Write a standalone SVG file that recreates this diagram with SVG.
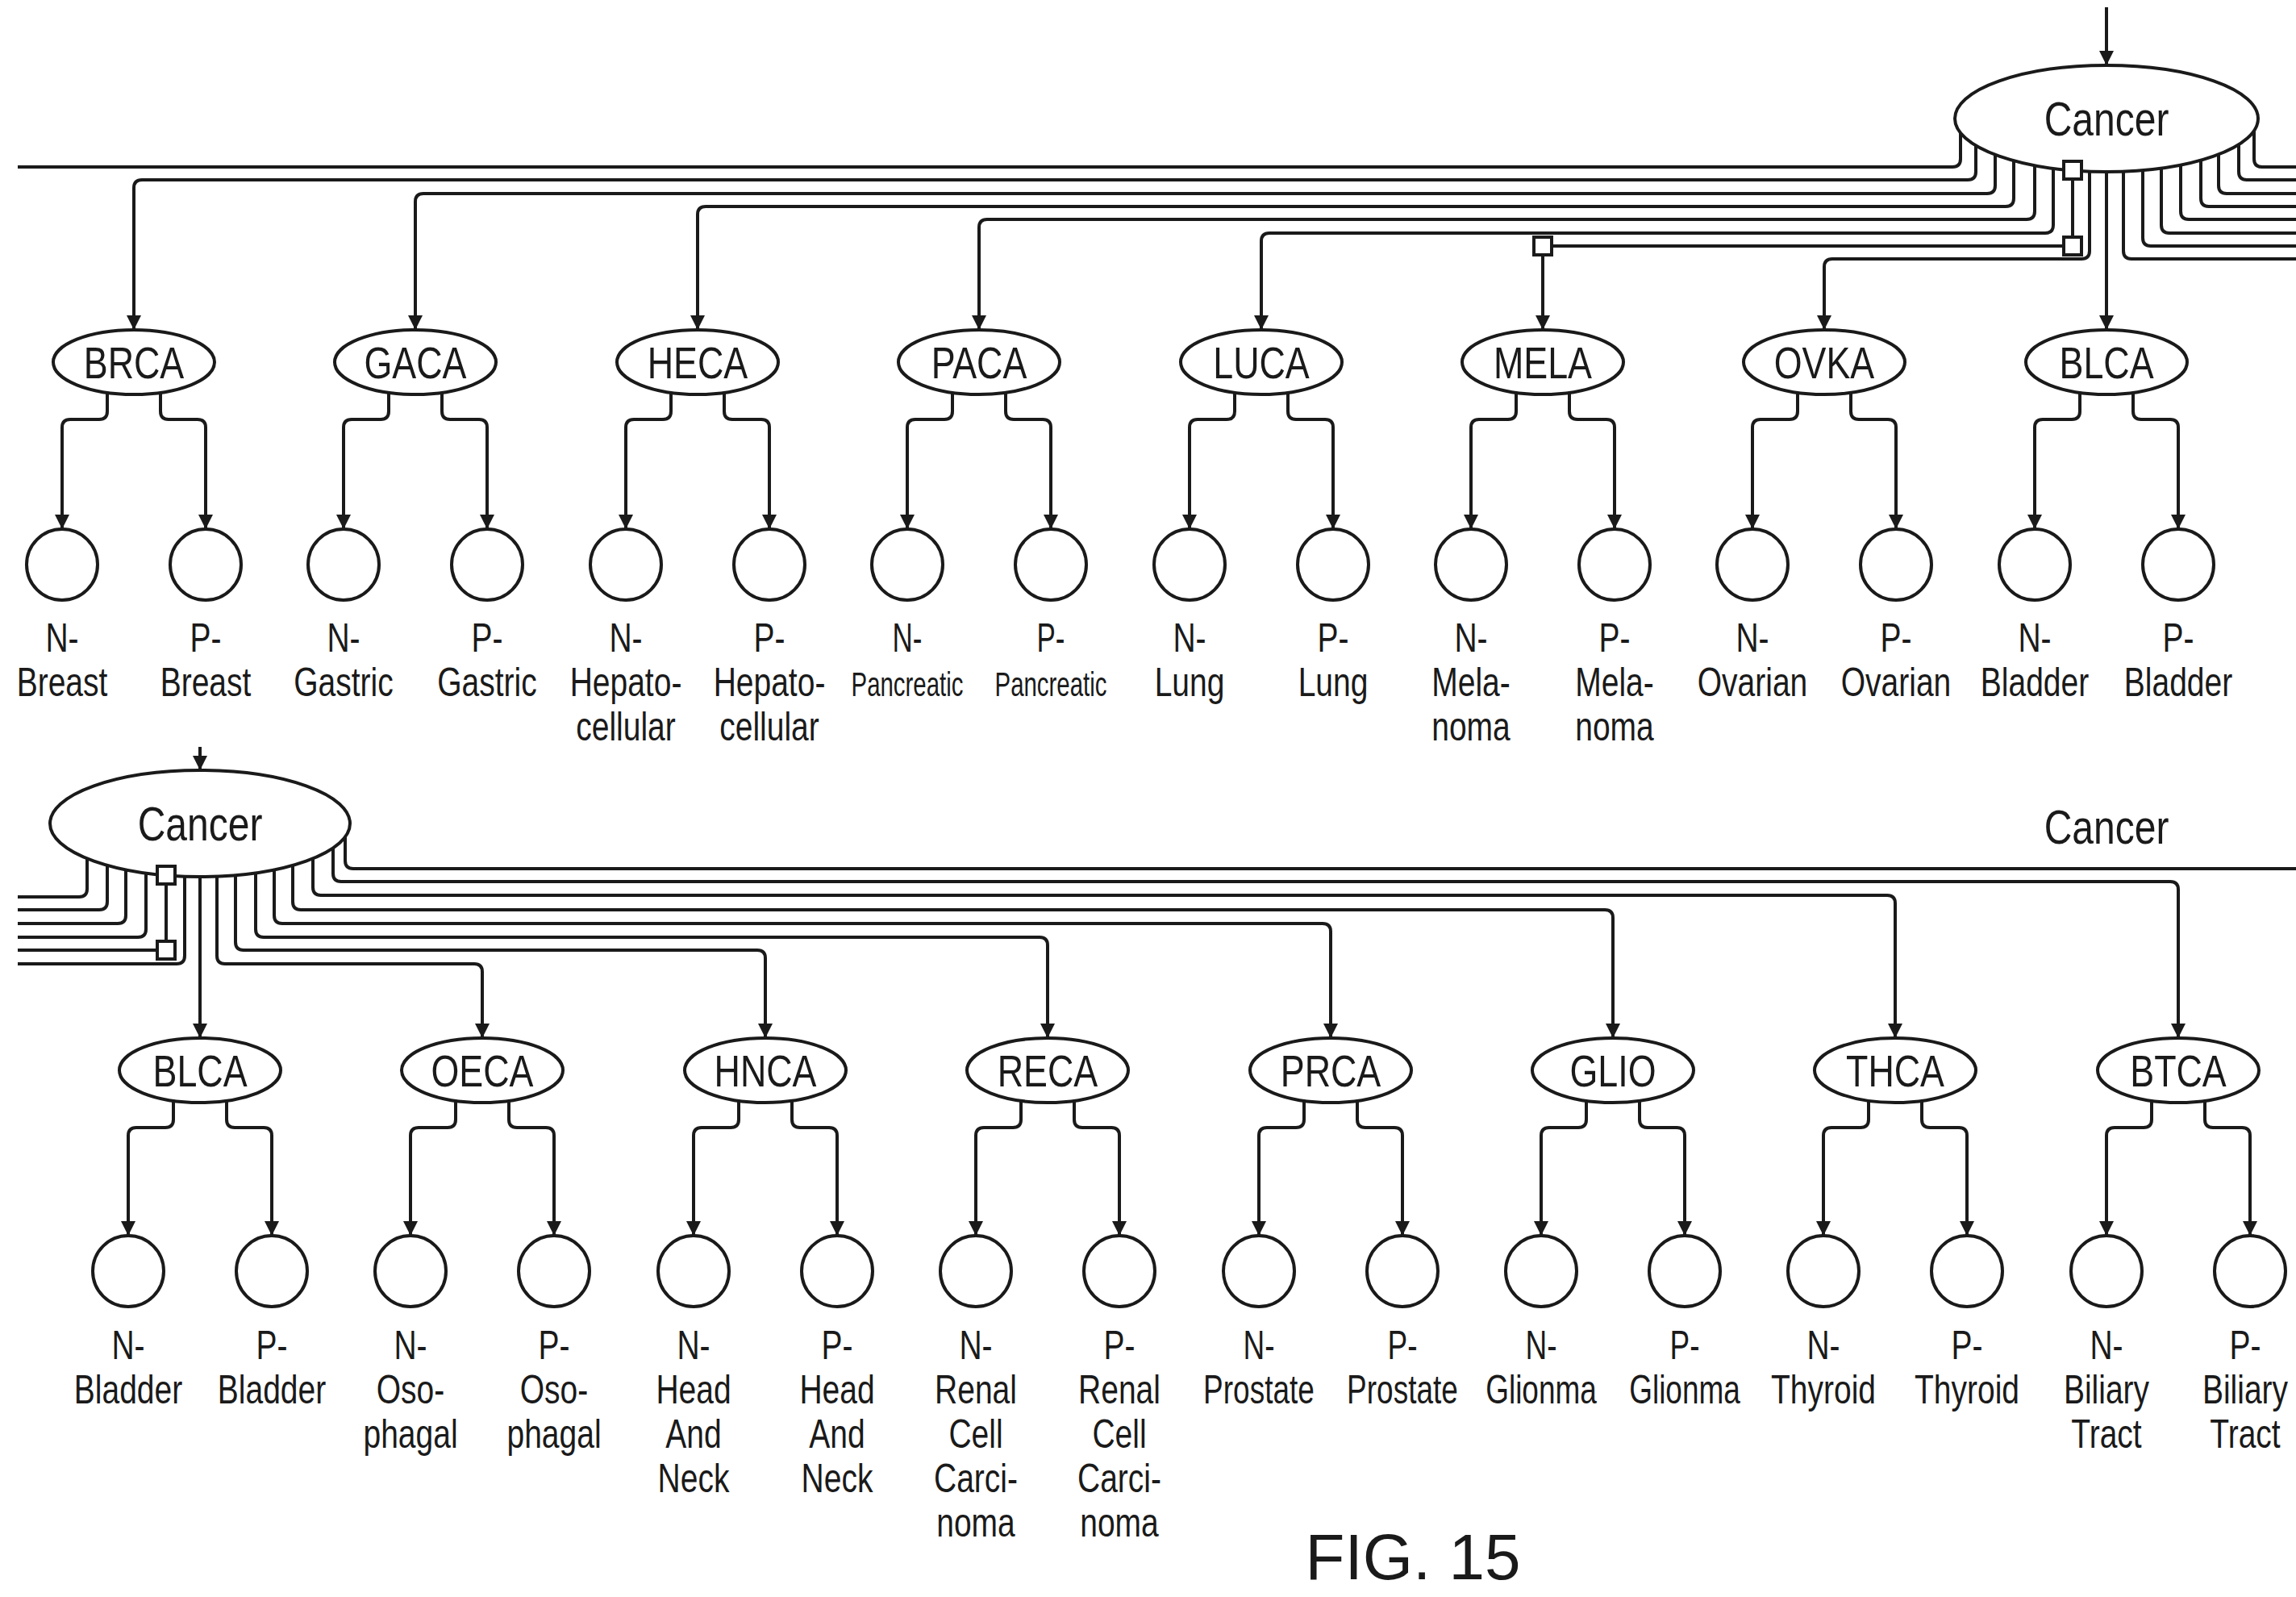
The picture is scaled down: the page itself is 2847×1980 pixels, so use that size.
<svg xmlns="http://www.w3.org/2000/svg" width="2847" height="1980" viewBox="0 0 2847 1980">
<defs>
<marker id="ah" viewBox="0 0 10 10" refX="10" refY="5" markerWidth="5" markerHeight="4.5" orient="auto" markerUnits="strokeWidth"><path d="M0,0 L10,5 L0,10 z" fill="#1a1a1a"/></marker>
</defs>
<style>
.ln{fill:none;stroke:#1a1a1a;stroke-width:4}
.ar{marker-end:url(#ah)}
.nd{fill:#fff;stroke:#1a1a1a;stroke-width:4}
.sq{fill:#fff;stroke:#1a1a1a;stroke-width:4}
.t{font-family:"Liberation Sans",Arial,sans-serif;font-size:50px;fill:#1a1a1a;text-anchor:middle}
.tn{font-size:56px}
.tc{font-size:60px}
.fig{font-family:"Liberation Sans",Arial,sans-serif;font-size:80px;fill:#1a1a1a;text-anchor:middle}
</style>
<rect width="2847" height="1980" fill="#fff"/>
<g id="connectors">
<path class="ln ar" d="M2612,9 V81"/>
<path class="ln" d="M2431,165 V197 Q2431,207 2421,207 H22"/>
<path class="ln ar" d="M2450,180 V213 Q2450,223 2440,223 H176 Q166,223 166,233 V409"/>
<path class="ln ar" d="M2474,192 V230 Q2474,240 2464,240 H525 Q515,240 515,250 V409"/>
<path class="ln ar" d="M2497,199 V246 Q2497,256 2487,256 H875 Q865,256 865,266 V409"/>
<path class="ln ar" d="M2523,205 V262 Q2523,272 2513,272 H1224 Q1214,272 1214,282 V409"/>
<path class="ln ar" d="M2546,209 V279 Q2546,289 2536,289 H1574 Q1564,289 1564,299 V409"/>
<path class="ln" d="M2570,222 V294"/>
<path class="ln" d="M2559,305 H1924"/>
<path class="ln ar" d="M1913,316 V409"/>
<rect class="sq" x="2559" y="294" width="22" height="22"/>
<rect class="sq" x="1902" y="294" width="22" height="22"/>
<path class="ln ar" d="M2591,213 V311 Q2591,321 2581,321 H2272 Q2262,321 2262,331 V409"/>
<path class="ln ar" d="M2612,213 V409"/>
<path class="ln" d="M2633,213 V311 Q2633,321 2643,321 H2847"/>
<path class="ln" d="M2657,211 V295 Q2657,305 2667,305 H2847"/>
<path class="ln" d="M2680,209 V279 Q2680,289 2690,289 H2847"/>
<path class="ln" d="M2704,205 V262 Q2704,272 2714,272 H2847"/>
<path class="ln" d="M2729,199 V246 Q2729,256 2739,256 H2847"/>
<path class="ln" d="M2751,191 V230 Q2751,240 2761,240 H2847"/>
<path class="ln" d="M2776,179 V213 Q2776,223 2786,223 H2847"/>
<path class="ln" d="M2795,162 V197 Q2795,207 2805,207 H2847"/>
<path class="ln ar" d="M133,487 V510 Q133,520 123,520 H87 Q77,520 77,530 V656"/>
<path class="ln ar" d="M199,487 V510 Q199,520 209,520 H245 Q255,520 255,530 V656"/>
<path class="ln ar" d="M482,487 V510 Q482,520 472,520 H436 Q426,520 426,530 V656"/>
<path class="ln ar" d="M548,487 V510 Q548,520 558,520 H594 Q604,520 604,530 V656"/>
<path class="ln ar" d="M832,487 V510 Q832,520 822,520 H786 Q776,520 776,530 V656"/>
<path class="ln ar" d="M898,487 V510 Q898,520 908,520 H944 Q954,520 954,530 V656"/>
<path class="ln ar" d="M1181,487 V510 Q1181,520 1171,520 H1135 Q1125,520 1125,530 V656"/>
<path class="ln ar" d="M1247,487 V510 Q1247,520 1257,520 H1293 Q1303,520 1303,530 V656"/>
<path class="ln ar" d="M1531,487 V510 Q1531,520 1521,520 H1485 Q1475,520 1475,530 V656"/>
<path class="ln ar" d="M1597,487 V510 Q1597,520 1607,520 H1643 Q1653,520 1653,530 V656"/>
<path class="ln ar" d="M1880,487 V510 Q1880,520 1870,520 H1834 Q1824,520 1824,530 V656"/>
<path class="ln ar" d="M1946,487 V510 Q1946,520 1956,520 H1992 Q2002,520 2002,530 V656"/>
<path class="ln ar" d="M2229,487 V510 Q2229,520 2219,520 H2183 Q2173,520 2173,530 V656"/>
<path class="ln ar" d="M2295,487 V510 Q2295,520 2305,520 H2341 Q2351,520 2351,530 V656"/>
<path class="ln ar" d="M2579,487 V510 Q2579,520 2569,520 H2533 Q2523,520 2523,530 V656"/>
<path class="ln ar" d="M2645,487 V510 Q2645,520 2655,520 H2691 Q2701,520 2701,530 V656"/>
<path class="ln ar" d="M248,926 V955"/>
<path class="ln" d="M108,1064 V1102 Q108,1112 98,1112 H22"/>
<path class="ln" d="M133,1073 V1118 Q133,1128 123,1128 H22"/>
<path class="ln" d="M156,1078 V1135 Q156,1145 146,1145 H22"/>
<path class="ln" d="M181,1083 V1152 Q181,1162 171,1162 H22"/>
<path class="ln" d="M206,1096 V1167"/>
<path class="ln" d="M195,1178 H22"/>
<rect class="sq" x="195" y="1167" width="22" height="22"/>
<path class="ln" d="M229,1087 V1185 Q229,1195 219,1195 H22"/>
<path class="ln ar" d="M248,1087 V1287"/>
<path class="ln ar" d="M269,1087 V1185 Q269,1195 279,1195 H588 Q598,1195 598,1205 V1287"/>
<path class="ln ar" d="M292,1085 V1168 Q292,1178 302,1178 H939 Q949,1178 949,1188 V1287"/>
<path class="ln ar" d="M317,1082 V1152 Q317,1162 327,1162 H1289 Q1299,1162 1299,1172 V1287"/>
<path class="ln ar" d="M340,1078 V1135 Q340,1145 350,1145 H1640 Q1650,1145 1650,1155 V1287"/>
<path class="ln ar" d="M363,1073 V1118 Q363,1128 373,1128 H1990 Q2000,1128 2000,1138 V1287"/>
<path class="ln ar" d="M388,1064 V1100 Q388,1110 398,1110 H2340 Q2350,1110 2350,1120 V1287"/>
<path class="ln ar" d="M413,1051 V1083 Q413,1093 423,1093 H2691 Q2701,1093 2701,1103 V1287"/>
<path class="ln" d="M428,1038 V1067 Q428,1077 438,1077 H2847"/>
<path class="ln ar" d="M215,1365 V1388 Q215,1398 205,1398 H169 Q159,1398 159,1408 V1532"/>
<path class="ln ar" d="M281,1365 V1388 Q281,1398 291,1398 H327 Q337,1398 337,1408 V1532"/>
<path class="ln ar" d="M565,1365 V1388 Q565,1398 555,1398 H519 Q509,1398 509,1408 V1532"/>
<path class="ln ar" d="M631,1365 V1388 Q631,1398 641,1398 H677 Q687,1398 687,1408 V1532"/>
<path class="ln ar" d="M916,1365 V1388 Q916,1398 906,1398 H870 Q860,1398 860,1408 V1532"/>
<path class="ln ar" d="M982,1365 V1388 Q982,1398 992,1398 H1028 Q1038,1398 1038,1408 V1532"/>
<path class="ln ar" d="M1266,1365 V1388 Q1266,1398 1256,1398 H1220 Q1210,1398 1210,1408 V1532"/>
<path class="ln ar" d="M1332,1365 V1388 Q1332,1398 1342,1398 H1378 Q1388,1398 1388,1408 V1532"/>
<path class="ln ar" d="M1617,1365 V1388 Q1617,1398 1607,1398 H1571 Q1561,1398 1561,1408 V1532"/>
<path class="ln ar" d="M1683,1365 V1388 Q1683,1398 1693,1398 H1729 Q1739,1398 1739,1408 V1532"/>
<path class="ln ar" d="M1967,1365 V1388 Q1967,1398 1957,1398 H1921 Q1911,1398 1911,1408 V1532"/>
<path class="ln ar" d="M2033,1365 V1388 Q2033,1398 2043,1398 H2079 Q2089,1398 2089,1408 V1532"/>
<path class="ln ar" d="M2317,1365 V1388 Q2317,1398 2307,1398 H2271 Q2261,1398 2261,1408 V1532"/>
<path class="ln ar" d="M2383,1365 V1388 Q2383,1398 2393,1398 H2429 Q2439,1398 2439,1408 V1532"/>
<path class="ln ar" d="M2668,1365 V1388 Q2668,1398 2658,1398 H2622 Q2612,1398 2612,1408 V1532"/>
<path class="ln ar" d="M2734,1365 V1388 Q2734,1398 2744,1398 H2780 Q2790,1398 2790,1408 V1532"/>
</g>
<g id="cancer-top"><ellipse class="nd" cx="2612" cy="147" rx="188" ry="66"/><text class="t tc" transform="translate(2612 0) scale(.8 1)" x="0" y="168">Cancer</text></g>
<rect class="sq" x="2559" y="200" width="22" height="22"/>
<g id="brca"><ellipse class="nd" cx="166" cy="449" rx="100" ry="40"/><text class="t tn" transform="translate(166 0) scale(.8 1)" x="0" y="469">BRCA</text></g>
<g id="gaca"><ellipse class="nd" cx="515" cy="449" rx="100" ry="40"/><text class="t tn" transform="translate(515 0) scale(.8 1)" x="0" y="469">GACA</text></g>
<g id="heca"><ellipse class="nd" cx="865" cy="449" rx="100" ry="40"/><text class="t tn" transform="translate(865 0) scale(.8 1)" x="0" y="469">HECA</text></g>
<g id="paca"><ellipse class="nd" cx="1214" cy="449" rx="100" ry="40"/><text class="t tn" transform="translate(1214 0) scale(.8 1)" x="0" y="469">PACA</text></g>
<g id="luca"><ellipse class="nd" cx="1564" cy="449" rx="100" ry="40"/><text class="t tn" transform="translate(1564 0) scale(.8 1)" x="0" y="469">LUCA</text></g>
<g id="mela"><ellipse class="nd" cx="1913" cy="449" rx="100" ry="40"/><text class="t tn" transform="translate(1913 0) scale(.8 1)" x="0" y="469">MELA</text></g>
<g id="ovka"><ellipse class="nd" cx="2262" cy="449" rx="100" ry="40"/><text class="t tn" transform="translate(2262 0) scale(.8 1)" x="0" y="469">OVKA</text></g>
<g id="blca-top"><ellipse class="nd" cx="2612" cy="449" rx="100" ry="40"/><text class="t tn" transform="translate(2612 0) scale(.8 1)" x="0" y="469">BLCA</text></g>
<g id="n-breast"><circle class="nd" cx="77" cy="700" r="44"/><text class="t" transform="translate(77 0) scale(.78 1)" x="0" y="808">N-<tspan x="0" dy="55">Breast</tspan></text></g>
<g id="p-breast"><circle class="nd" cx="255" cy="700" r="44"/><text class="t" transform="translate(255 0) scale(.78 1)" x="0" y="808">P-<tspan x="0" dy="55">Breast</tspan></text></g>
<g id="n-gastric"><circle class="nd" cx="426" cy="700" r="44"/><text class="t" transform="translate(426 0) scale(.78 1)" x="0" y="808">N-<tspan x="0" dy="55">Gastric</tspan></text></g>
<g id="p-gastric"><circle class="nd" cx="604" cy="700" r="44"/><text class="t" transform="translate(604 0) scale(.78 1)" x="0" y="808">P-<tspan x="0" dy="55">Gastric</tspan></text></g>
<g id="n-hepato"><circle class="nd" cx="776" cy="700" r="44"/><text class="t" transform="translate(776 0) scale(.78 1)" x="0" y="808">N-<tspan x="0" dy="55">Hepato-</tspan><tspan x="0" dy="55">cellular</tspan></text></g>
<g id="p-hepato"><circle class="nd" cx="954" cy="700" r="44"/><text class="t" transform="translate(954 0) scale(.78 1)" x="0" y="808">P-<tspan x="0" dy="55">Hepato-</tspan><tspan x="0" dy="55">cellular</tspan></text></g>
<g id="n-pancreatic"><circle class="nd" cx="1125" cy="700" r="44"/><text class="t" transform="translate(1125 0) scale(.7 1)" x="0" y="808">N-<tspan x="0" dy="55" font-size="42">Pancreatic</tspan></text></g>
<g id="p-pancreatic"><circle class="nd" cx="1303" cy="700" r="44"/><text class="t" transform="translate(1303 0) scale(.7 1)" x="0" y="808">P-<tspan x="0" dy="55" font-size="42">Pancreatic</tspan></text></g>
<g id="n-lung"><circle class="nd" cx="1475" cy="700" r="44"/><text class="t" transform="translate(1475 0) scale(.78 1)" x="0" y="808">N-<tspan x="0" dy="55">Lung</tspan></text></g>
<g id="p-lung"><circle class="nd" cx="1653" cy="700" r="44"/><text class="t" transform="translate(1653 0) scale(.78 1)" x="0" y="808">P-<tspan x="0" dy="55">Lung</tspan></text></g>
<g id="n-melanoma"><circle class="nd" cx="1824" cy="700" r="44"/><text class="t" transform="translate(1824 0) scale(.78 1)" x="0" y="808">N-<tspan x="0" dy="55">Mela-</tspan><tspan x="0" dy="55">noma</tspan></text></g>
<g id="p-melanoma"><circle class="nd" cx="2002" cy="700" r="44"/><text class="t" transform="translate(2002 0) scale(.78 1)" x="0" y="808">P-<tspan x="0" dy="55">Mela-</tspan><tspan x="0" dy="55">noma</tspan></text></g>
<g id="n-ovarian"><circle class="nd" cx="2173" cy="700" r="44"/><text class="t" transform="translate(2173 0) scale(.78 1)" x="0" y="808">N-<tspan x="0" dy="55">Ovarian</tspan></text></g>
<g id="p-ovarian"><circle class="nd" cx="2351" cy="700" r="44"/><text class="t" transform="translate(2351 0) scale(.78 1)" x="0" y="808">P-<tspan x="0" dy="55">Ovarian</tspan></text></g>
<g id="n-bladder-top"><circle class="nd" cx="2523" cy="700" r="44"/><text class="t" transform="translate(2523 0) scale(.78 1)" x="0" y="808">N-<tspan x="0" dy="55">Bladder</tspan></text></g>
<g id="p-bladder-top"><circle class="nd" cx="2701" cy="700" r="44"/><text class="t" transform="translate(2701 0) scale(.78 1)" x="0" y="808">P-<tspan x="0" dy="55">Bladder</tspan></text></g>
<g id="cancer-bottom"><ellipse class="nd" cx="248" cy="1021" rx="186" ry="66"/><text class="t tc" transform="translate(248 0) scale(.8 1)" x="0" y="1042">Cancer</text></g>
<rect class="sq" x="195" y="1074" width="22" height="22"/>
<text class="t tc" transform="translate(2612 0) scale(.8 1)" x="0" y="1046">Cancer</text>
<g id="blca"><ellipse class="nd" cx="248" cy="1327" rx="100" ry="40"/><text class="t tn" transform="translate(248 0) scale(.8 1)" x="0" y="1347">BLCA</text></g>
<g id="oeca"><ellipse class="nd" cx="598" cy="1327" rx="100" ry="40"/><text class="t tn" transform="translate(598 0) scale(.8 1)" x="0" y="1347">OECA</text></g>
<g id="hnca"><ellipse class="nd" cx="949" cy="1327" rx="100" ry="40"/><text class="t tn" transform="translate(949 0) scale(.8 1)" x="0" y="1347">HNCA</text></g>
<g id="reca"><ellipse class="nd" cx="1299" cy="1327" rx="100" ry="40"/><text class="t tn" transform="translate(1299 0) scale(.8 1)" x="0" y="1347">RECA</text></g>
<g id="prca"><ellipse class="nd" cx="1650" cy="1327" rx="100" ry="40"/><text class="t tn" transform="translate(1650 0) scale(.8 1)" x="0" y="1347">PRCA</text></g>
<g id="glio"><ellipse class="nd" cx="2000" cy="1327" rx="100" ry="40"/><text class="t tn" transform="translate(2000 0) scale(.8 1)" x="0" y="1347">GLIO</text></g>
<g id="thca"><ellipse class="nd" cx="2350" cy="1327" rx="100" ry="40"/><text class="t tn" transform="translate(2350 0) scale(.8 1)" x="0" y="1347">THCA</text></g>
<g id="btca"><ellipse class="nd" cx="2701" cy="1327" rx="100" ry="40"/><text class="t tn" transform="translate(2701 0) scale(.8 1)" x="0" y="1347">BTCA</text></g>
<g id="n-bladder"><circle class="nd" cx="159" cy="1576" r="44"/><text class="t" transform="translate(159 0) scale(.78 1)" x="0" y="1685">N-<tspan x="0" dy="55">Bladder</tspan></text></g>
<g id="p-bladder"><circle class="nd" cx="337" cy="1576" r="44"/><text class="t" transform="translate(337 0) scale(.78 1)" x="0" y="1685">P-<tspan x="0" dy="55">Bladder</tspan></text></g>
<g id="n-oso"><circle class="nd" cx="509" cy="1576" r="44"/><text class="t" transform="translate(509 0) scale(.78 1)" x="0" y="1685">N-<tspan x="0" dy="55">Oso-</tspan><tspan x="0" dy="55">phagal</tspan></text></g>
<g id="p-oso"><circle class="nd" cx="687" cy="1576" r="44"/><text class="t" transform="translate(687 0) scale(.78 1)" x="0" y="1685">P-<tspan x="0" dy="55">Oso-</tspan><tspan x="0" dy="55">phagal</tspan></text></g>
<g id="n-head"><circle class="nd" cx="860" cy="1576" r="44"/><text class="t" transform="translate(860 0) scale(.78 1)" x="0" y="1685">N-<tspan x="0" dy="55">Head</tspan><tspan x="0" dy="55">And</tspan><tspan x="0" dy="55">Neck</tspan></text></g>
<g id="p-head"><circle class="nd" cx="1038" cy="1576" r="44"/><text class="t" transform="translate(1038 0) scale(.78 1)" x="0" y="1685">P-<tspan x="0" dy="55">Head</tspan><tspan x="0" dy="55">And</tspan><tspan x="0" dy="55">Neck</tspan></text></g>
<g id="n-renal"><circle class="nd" cx="1210" cy="1576" r="44"/><text class="t" transform="translate(1210 0) scale(.78 1)" x="0" y="1685">N-<tspan x="0" dy="55">Renal</tspan><tspan x="0" dy="55">Cell</tspan><tspan x="0" dy="55">Carci-</tspan><tspan x="0" dy="55">noma</tspan></text></g>
<g id="p-renal"><circle class="nd" cx="1388" cy="1576" r="44"/><text class="t" transform="translate(1388 0) scale(.78 1)" x="0" y="1685">P-<tspan x="0" dy="55">Renal</tspan><tspan x="0" dy="55">Cell</tspan><tspan x="0" dy="55">Carci-</tspan><tspan x="0" dy="55">noma</tspan></text></g>
<g id="n-prostate"><circle class="nd" cx="1561" cy="1576" r="44"/><text class="t" transform="translate(1561 0) scale(.74 1)" x="0" y="1685">N-<tspan x="0" dy="55">Prostate</tspan></text></g>
<g id="p-prostate"><circle class="nd" cx="1739" cy="1576" r="44"/><text class="t" transform="translate(1739 0) scale(.74 1)" x="0" y="1685">P-<tspan x="0" dy="55">Prostate</tspan></text></g>
<g id="n-glionma"><circle class="nd" cx="1911" cy="1576" r="44"/><text class="t" transform="translate(1911 0) scale(.74 1)" x="0" y="1685">N-<tspan x="0" dy="55">Glionma</tspan></text></g>
<g id="p-glionma"><circle class="nd" cx="2089" cy="1576" r="44"/><text class="t" transform="translate(2089 0) scale(.74 1)" x="0" y="1685">P-<tspan x="0" dy="55">Glionma</tspan></text></g>
<g id="n-thyroid"><circle class="nd" cx="2261" cy="1576" r="44"/><text class="t" transform="translate(2261 0) scale(.78 1)" x="0" y="1685">N-<tspan x="0" dy="55">Thyroid</tspan></text></g>
<g id="p-thyroid"><circle class="nd" cx="2439" cy="1576" r="44"/><text class="t" transform="translate(2439 0) scale(.78 1)" x="0" y="1685">P-<tspan x="0" dy="55">Thyroid</tspan></text></g>
<g id="n-biliary"><circle class="nd" cx="2612" cy="1576" r="44"/><text class="t" transform="translate(2612 0) scale(.78 1)" x="0" y="1685">N-<tspan x="0" dy="55">Biliary</tspan><tspan x="0" dy="55">Tract</tspan></text></g>
<g id="p-biliary"><circle class="nd" cx="2790" cy="1576" r="44"/><text class="t" transform="translate(2784 0) scale(.78 1)" x="0" y="1685">P-<tspan x="0" dy="55">Biliary</tspan><tspan x="0" dy="55">Tract</tspan></text></g>
<text class="fig" x="1752" y="1958">FIG. 15</text>
</svg>
